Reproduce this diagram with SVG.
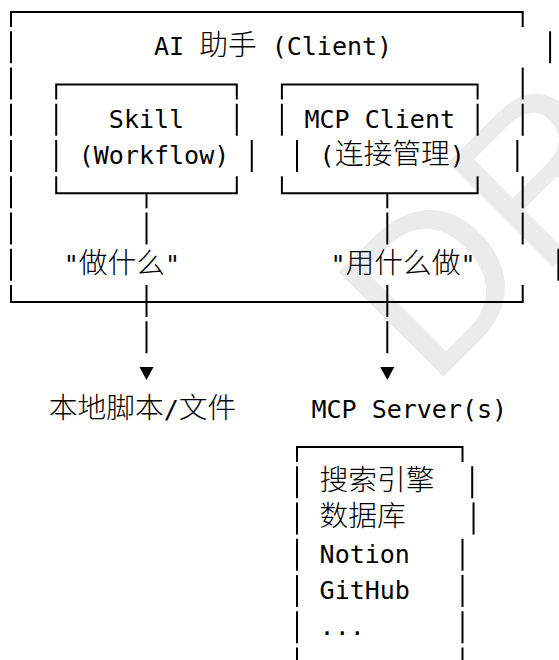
<svg xmlns="http://www.w3.org/2000/svg" width="559" height="660" viewBox="0 0 559 660">
<style>
.bg{fill:#ffffff}
.t{font-family:'DejaVu Sans Mono','Noto Sans CJK SC',monospace;font-size:25px;fill:#000;white-space:pre}
.c{font-family:'Noto Sans CJK SC','DejaVu Sans Mono',sans-serif;font-size:28.75px;font-weight:300}
.ln{stroke:#000;stroke-width:2;fill:none}
.wm{font-family:'Liberation Sans',sans-serif;font-size:215px;fill:#ebebeb}
.ar{fill:#000}
</style>
<rect class="bg" x="0" y="0" width="559" height="660"/>
<g id="watermark">
<text class="wm" transform="translate(430.8,389.2) rotate(-45)">DR</text>
</g>
<g id="client">
<path class="ln" d="M11 26.95V12H522.7V26.95
M11 31.2V63.2 M11 67.45V99.45 M11 103.7V135.7 M11 139.95V171.95 M11 176.2V208.2 M11 212.45V244.45 M11 248.7V280.7
M11 284.95V302H522.7V284.95
M550.1 31.2V63.2 M522.7 67.45V99.45 M522.7 103.7V135.7 M517.35 139.95V171.95 M522.7 176.2V208.2 M522.7 212.45V244.45 M558.4 248.7V280.7"/>
<text class="t" x="154" y="55.2">AI <tspan class="c">助手</tspan> (Client)</text>
</g>
<g id="skill">
<path class="ln" d="M56.2 99.45V84.5H236.8V99.45
M56.2 103.7V135.7 M236.8 103.7V135.7
M56.2 139.95V171.95 M251.8 139.95V171.95
M56.2 176.2V193.25H236.8V176.2"/>
<text class="t" x="108.85" y="127.7">Skill</text>
<text class="t" x="78.75" y="163.95">(Workflow)</text>
</g>
<g id="mcp-client">
<path class="ln" d="M281.9 99.45V84.5H477.6V99.45
M281.9 103.7V135.7 M477.6 103.7V135.7
M297 139.95V171.95
M281.9 176.2V193.25H477.6V176.2"/>
<text class="t" x="304.5" y="127.7">MCP Client</text>
<text class="t" x="319.6" y="163.95">(<tspan class="c">连接管理</tspan>)</text>
</g>
<g id="connectors">
<path class="ln" d="M146.5 193.25V208.2 M146.5 212.45V244.45 M146.5 284.95V316.95 M146.5 321.2V353.2
M387.3 193.25V208.2 M387.3 212.45V244.45 M387.3 284.95V316.95 M387.3 321.2V353.2"/>
<polygon class="ar" points="139.5,367 153.5,367 146.5,380"/>
<polygon class="ar" points="380.3,367 394.3,367 387.3,380"/>
<text class="t" x="63.7" y="272.7">"<tspan class="c">做什么</tspan>"</text>
<text class="t" x="330.55" y="272.7">"<tspan class="c">用什么做</tspan>"</text>
</g>
<g id="local-scripts">
<text class="t" x="48.65" y="417.7"><tspan class="c">本地脚本</tspan>/<tspan class="c">文件</tspan></text>
</g>
<g id="mcp-servers">
<text class="t" x="311.45" y="417.7">MCP Server(s)</text>
<path class="ln" d="M297 461.95V447H462.5V461.95
M297 466.2V498.2 M297 502.45V534.45 M297 538.7V570.7 M297 574.95V606.95 M297 611.2V643.2 M297 647.45V679.45
M472.2 466.2V498.2 M473.55 502.45V534.45 M462.5 538.7V570.7 M462.5 574.95V606.95 M462.5 611.2V643.2 M462.5 647.45V679.45"/>
<text class="t" x="319.6" y="490.2"><tspan class="c">搜索引擎</tspan></text>
<text class="t" x="319.6" y="526.45"><tspan class="c">数据库</tspan></text>
<text class="t" x="319.6" y="562.7">Notion</text>
<text class="t" x="319.6" y="598.95">GitHub</text>
<text class="t" x="319.6" y="635.2">...</text>
</g>
</svg>
